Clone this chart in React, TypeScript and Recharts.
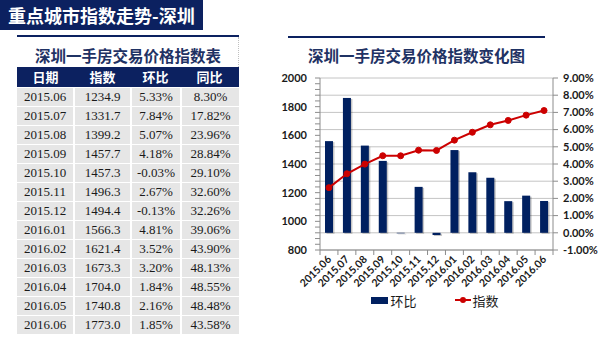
import React from 'react';
import { ComposedChart, Bar, Line, XAxis, YAxis, CartesianGrid, Legend } from 'recharts';

const months = ['2015.06', '2015.07', '2015.08', '2015.09', '2015.10', '2015.11', '2015.12', '2016.01', '2016.02', '2016.03', '2016.04', '2016.05', '2016.06'];
const indexValues = [1234.9, 1331.7, 1399.2, 1457.7, 1457.3, 1496.3, 1494.4, 1566.3, 1621.4, 1673.3, 1704.0, 1740.8, 1773.0];
const momPct = [5.33, 7.84, 5.07, 4.18, -0.03, 2.67, -0.13, 4.81, 3.52, 3.2, 1.84, 2.16, 1.85];
const yoyPct = [8.3, 17.82, 23.96, 28.84, 29.1, 32.6, 32.26, 39.06, 43.9, 48.13, 48.55, 48.48, 43.58];
const tableHeads = ['日期', '指数', '环比', '同比'];
const indexTicks = [800, 1000, 1200, 1400, 1600, 1800, 2000];
const indexMinorTicks = [800, 840, 880, 920, 960, 1000, 1040, 1080, 1120, 1160, 1200, 1240, 1280, 1320, 1360, 1400, 1440, 1480, 1520, 1560, 1600, 1640, 1680, 1720, 1760, 1800, 1840, 1880, 1920, 1960, 2000];
const pctTicks = [-1, 0, 1, 2, 3, 4, 5, 6, 7, 8, 9];

const NAVY = '#0c2160';
const BAR = '#002060';
const RED = '#cc0000';
const AXIS = '#8c8c8c';
const CJK = "'Noto Sans CJK SC', sans-serif";
const NUM = "Lato, 'Noto Sans CJK SC', sans-serif";

const CHART_W = 330;
const LEFT_W = 50;
const RIGHT_W = 47;
const PLOT_W = CHART_W - LEFT_W - RIGHT_W;

const chartData = months.map((m, i) => ({ month: m, index: indexValues[i], mom: momPct[i] }));

const LeftTick = (props: any) => {
  const { x, y, payload } = props;
  if (!indexTicks.includes(payload.value)) return <g />;
  return (
    <text x={x} y={y} dy="0.35em" textAnchor="end" fontSize={11} fontWeight={700} fill="#1a1a1a" fontFamily={NUM}>
      {payload.value}
    </text>
  );
};

const RightTick = (props: any) => {
  const { x, y, payload } = props;
  return (
    <text x={x} y={y} dy="0.35em" textAnchor="start" fontSize={11} fontWeight={700} fill="#1a1a1a" fontFamily={NUM}>
      {payload.value.toFixed(2)}%
    </text>
  );
};

const MonthTick = (props: any) => {
  const { x, y, payload, index } = props;
  const step = PLOT_W / months.length;
  const tx = x + 3;
  const ty = y + 10;
  return (
    <g>
      <line x1={x - step / 2} x2={x - step / 2} y1={y} y2={y + 5} stroke={AXIS} />
      {index === months.length - 1 && <line x1={x + step / 2} x2={x + step / 2} y1={y} y2={y + 5} stroke={AXIS} />}
      <text x={tx} y={ty} transform={`rotate(-45, ${tx}, ${ty})`} textAnchor="end" fontSize={10.5} fontWeight={700} fill="#1a1a1a" fontFamily={NUM}>
        {payload.value}
      </text>
    </g>
  );
};

const ShadowBar = (props: any) => {
  const { x, y, width, height } = props;
  const top = Math.min(y, y + height);
  const h = Math.abs(height);
  return (
    <g>
      <rect x={x + 1.5} y={top + 1} width={width} height={h} fill="rgba(0,0,0,0.22)" />
      <rect x={x} y={top} width={width} height={h} fill={BAR} />
    </g>
  );
};

const LegendContent = () => (
  <div style={{ display: 'flex', justifyContent: 'center', alignItems: 'center', height: 20, fontFamily: CJK, fontSize: 13, color: '#1a1a1a' }}>
    <span style={{ display: 'inline-block', width: 17, height: 7, background: BAR, marginRight: 2 }} />
    <span>环比</span>
    <svg width={16} height={10} style={{ marginLeft: 38, marginRight: 2 }}>
      <line x1={0} x2={16} y1={5} y2={5} stroke={RED} strokeWidth={2} />
      <circle cx={8} cy={5} r={3} fill={RED} />
    </svg>
    <span>指数</span>
  </div>
);

const cellStyle: React.CSSProperties = {
  background: '#e6e6e6',
  height: 18,
  lineHeight: '18px',
  textAlign: 'center',
  fontFamily: "'Liberation Serif', serif",
  fontSize: 13,
  color: '#1a1a1a',
};

export default function App() {
  return (
    <div style={{ position: 'absolute', left: 0, top: 0, width: 600, height: 340, background: '#fff', overflow: 'hidden' }}>
      <div style={{ position: 'absolute', left: 0, top: 0, width: 203, height: 30, background: NAVY, color: '#fff', fontFamily: CJK, fontWeight: 700, fontSize: 18, lineHeight: '30px', paddingLeft: 8, boxSizing: 'border-box' }}>
        重点城市指数走势-深圳
      </div>

      <div style={{ position: 'absolute', left: 17, top: 35, width: 222, height: 2, background: NAVY }} />
      <div style={{ position: 'absolute', left: 238, top: 37, width: 0, height: 30, borderRight: '1px dotted #c0c0c0' }} />
      <div style={{ position: 'absolute', left: 17, top: 44, width: 222, textAlign: 'center', fontFamily: CJK, fontWeight: 700, fontSize: 15.5, lineHeight: '22px', color: '#1f3264' }}>
        深圳一手房交易价格指数表
      </div>

      <div style={{ position: 'absolute', left: 17, top: 67, width: 222, height: 20, background: NAVY, display: 'grid', gridTemplateColumns: '57px 57px 49px 59px' }}>
        {tableHeads.map((h) => (
          <div key={h} style={{ color: '#fff', fontFamily: CJK, fontWeight: 700, fontSize: 13, lineHeight: '20px', textAlign: 'center' }}>{h}</div>
        ))}
      </div>
      <div style={{ position: 'absolute', left: 17, top: 88, width: 222, display: 'grid', gridTemplateColumns: '56px 55px 48px 57px', columnGap: 2, rowGap: 1 }}>
        {months.map((m, i) => (
          <React.Fragment key={m}>
            <div style={cellStyle}>{m}</div>
            <div style={cellStyle}>{indexValues[i].toFixed(1)}</div>
            <div style={cellStyle}>{momPct[i].toFixed(2)}%</div>
            <div style={cellStyle}>{yoyPct[i].toFixed(2)}%</div>
          </React.Fragment>
        ))}
      </div>

      <div style={{ position: 'absolute', left: 288, top: 36, width: 257, height: 2, background: NAVY }} />
      <div style={{ position: 'absolute', left: 288, top: 44, width: 257, textAlign: 'center', fontFamily: CJK, fontWeight: 700, fontSize: 15.5, lineHeight: '22px', color: '#1f3264' }}>
        深圳一手房交易价格指数变化图
      </div>

      <div style={{ position: 'absolute', left: 270, top: 50 }}>
        <ComposedChart width={CHART_W} height={270} data={chartData} margin={{ top: 28, right: 0, left: 0, bottom: 10 }} barSize={8}>
          <CartesianGrid yAxisId="right" vertical={false} stroke="#c4c4c4" />
          <XAxis dataKey="month" interval={0} tickLine={false} tickSize={0} tickMargin={0} height={40} axisLine={{ stroke: AXIS }} tick={<MonthTick />} />
          <YAxis yAxisId="left" orientation="left" width={LEFT_W} domain={[800, 2000]} ticks={indexMinorTicks} interval={0} tickSize={5} tickMargin={8} axisLine={{ stroke: AXIS }} tickLine={{ stroke: AXIS }} tick={<LeftTick />} />
          <YAxis yAxisId="right" orientation="right" width={RIGHT_W} domain={[-1, 9]} ticks={pctTicks} interval={0} tickSize={5} tickMargin={5} axisLine={{ stroke: AXIS }} tickLine={{ stroke: AXIS }} tick={<RightTick />} />
          <Bar yAxisId="right" dataKey="mom" name="环比" fill={BAR} shape={<ShadowBar />} isAnimationActive={false} />
          <Line yAxisId="left" dataKey="index" name="指数" stroke={RED} strokeWidth={2} dot={{ r: 3, fill: RED, stroke: RED, strokeWidth: 1 }} isAnimationActive={false} />
          <Legend verticalAlign="bottom" content={<LegendContent />} />
        </ComposedChart>
      </div>
    </div>
  );
}
